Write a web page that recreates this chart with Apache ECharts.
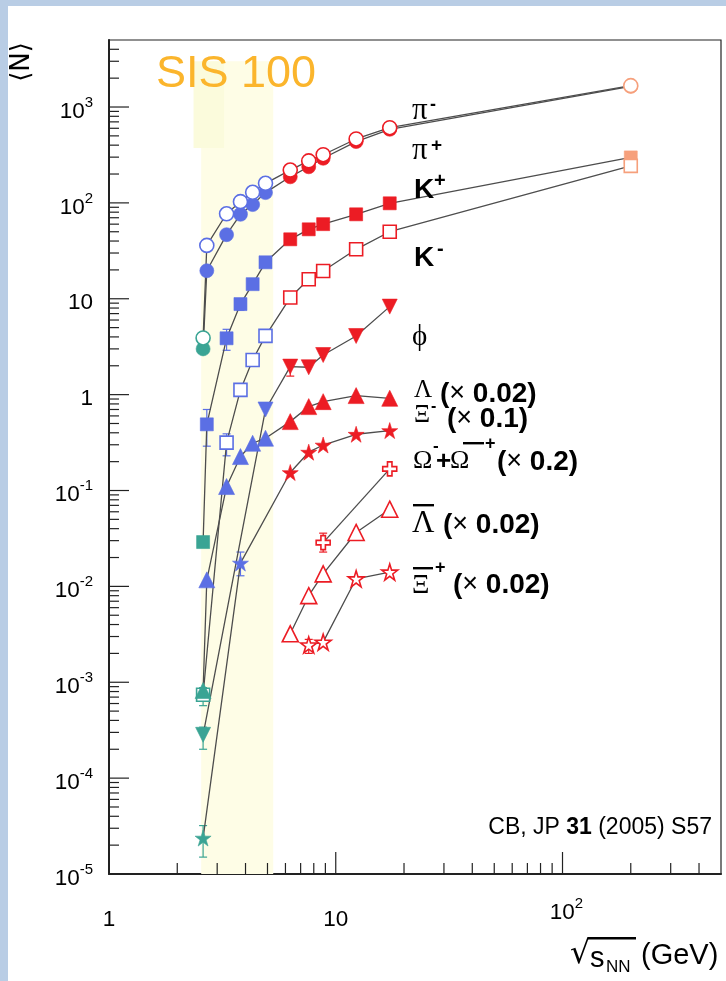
<!DOCTYPE html>
<html>
<head>
<meta charset="utf-8">
<script src="https://cdn.jsdelivr.net/npm/echarts@6/dist/echarts.min.js"></script>
<style>
html, body { margin: 0; padding: 0; background: #ffffff; }
#chart { width: 726px; height: 981px; }
</style>
</head>
<body>
<div id="chart"></div>
<script>
// Mean hadron multiplicities <N> versus collision energy sqrt(s_NN) in GeV.
// Energies: SIS (2.6), AGS (2.7-4.9), SPS (6.3-17.3), RHIC (200).

const piMinusE = [2.6, 2.7, 3.3, 3.8, 4.3, 4.9, 6.3, 7.6, 8.8, 12.3, 17.3, 200];
const piMinusN = [3.9, 36, 77, 103, 129, 160, 220, 274, 318, 464, 608, 1670];

const piPlusE = [2.6, 2.7, 3.3, 3.8, 4.3, 4.9, 6.3, 7.6, 8.8, 12.3, 17.3, 200];
const piPlusN = [3.0, 19.6, 46.6, 76, 96, 128, 187, 238, 292, 436, 586, 1640];

const kPlusE = [2.6, 2.7, 3.3, 3.8, 4.3, 4.9, 6.3, 7.6, 8.8, 12.3, 17.3, 200];
const kPlusN = [0.029, 0.49, 3.87, 8.8, 14.2, 24, 41.7, 53, 60, 76, 99, 298];

const kMinusE = [2.6, 3.3, 3.8, 4.3, 4.9, 6.3, 7.6, 8.8, 12.3, 17.3, 200];
const kMinusN = [7.4e-4, 0.316, 1.12, 2.3, 4.1, 10.3, 16.0, 19.5, 32.8, 50, 243];

const phiE = [2.6, 4.9, 6.3, 7.6, 8.8, 12.3, 17.3];
const phiN = [2.83e-4, 0.70, 1.96, 1.93, 2.59, 4.09, 8.28];

// Lambda scaled by 0.02
const lambdaE = [2.6, 2.7, 3.3, 3.8, 4.3, 4.9, 6.3, 7.6, 8.8, 12.3, 17.3];
const lambdaN = [8.2e-4, 0.0117, 0.110, 0.226, 0.311, 0.351, 0.523, 0.75, 0.845, 0.977, 0.916];

// Xi- scaled by 0.1
const xiMinusE = [2.6, 3.8, 6.3, 7.6, 8.8, 12.3, 17.3];
const xiMinusN = [2.37e-5, 0.0175, 0.154, 0.251, 0.298, 0.386, 0.422];

// Omega- + anti-Omega+ scaled by 0.2
const omegaE = [8.8, 17.3];
const omegaN = [0.0286, 0.168];

// anti-Lambda scaled by 0.02
const antiLambdaE = [6.3, 7.6, 8.8, 12.3, 17.3];
const antiLambdaN = [0.0032, 0.0080, 0.0135, 0.0365, 0.0638];

// anti-Xi+ scaled by 0.02
const antiXiE = [7.6, 8.8, 12.3, 17.3];
const antiXiN = [0.00245, 0.00262, 0.0120, 0.0141];

// Error bars: [energy, low, high]
const errKPlus = [[2.7, 0.29, 0.70], [3.3, 2.9, 4.8], [3.8, 7.6, 10.0]];
const errKMinus = [[2.6, 5.7e-4, 8.8e-4], [3.3, 0.23, 0.39], [3.8, 0.96, 1.27]];
const errPhi = [[2.6, 2.0e-4, 3.4e-4], [6.3, 1.56, 2.12]];
const errXiMinus = [[2.6, 1.5e-5, 3.2e-5], [3.8, 0.0129, 0.0228]];
const errOmega = [[8.8, 0.0228, 0.0359]];
const errAntiXi = [[7.6, 0.0020, 0.0028]];

// SIS 100 energy window
const sisBand = [2.55, 5.3, 1e-5, 3000];
const sisPatch = [2.36, 3.22, 373, 3000];

// Axis ranges and labelled decades
const xRange = [1, 500];
const yRange = [1e-5, 5000];
const xMajorTicks = [1, 10, 100];
const xMajorLabels = [['1', ''], ['10', ''], ['10', '2']];
const yMajorTicks = [1e-5, 1e-4, 1e-3, 1e-2, 1e-1, 1, 10, 100, 1000];
const yMajorLabels = [['10', '-5'], ['10', '-4'], ['10', '-3'], ['10', '-2'], ['10', '-1'], ['1', ''], ['10', ''], ['10', '2'], ['10', '3']];

const TEAL = '#3aa494';
const BLUE = '#5b6fe4';
const RED = '#ec1c24';
const ORANGE = '#f6a07c';
const LINE = '#4d4d4d';
const SANS = '"Liberation Sans", Arial, sans-serif';
const SERIF = '"Liberation Serif", "Times New Roman", serif';

function colorFor(e) {
  if (e < 2.65) return TEAL;
  if (e < 6) return BLUE;
  if (e < 100) return RED;
  return ORANGE;
}

const STAR = 'path://M50,0 L61.2,34.5 L97.6,34.5 L68.2,55.9 L79.4,90.5 L50,69.1 L20.6,90.5 L31.8,55.9 L2.4,34.5 L38.8,34.5 Z';
const CROSS = 'path://M34,0 H66 V34 H100 V66 H66 V100 H34 V66 H0 V34 H34 Z';

function speciesSeries(name, es, ns, symbol, size, open, extra) {
  const data = es.map((e, i) => {
    const c = colorFor(e);
    return {
      value: [e, ns[i]],
      itemStyle: open
        ? { color: '#ffffff', borderColor: c, borderWidth: 1.6 }
        : { color: c, borderColor: c, borderWidth: 0.6 }
    };
  });
  return Object.assign({
    name: name,
    type: 'line',
    data: data,
    symbol: symbol,
    symbolSize: size,
    showAllSymbol: true,
    lineStyle: { color: LINE, width: 1.3 },
    emphasis: { disabled: true },
    z: 5
  }, extra || {});
}

function errorSeries(rows) {
  return {
    type: 'custom',
    data: rows,
    encode: { x: 0, y: [1, 2] },
    z: 4,
    clip: false,
    renderItem: function (params, api) {
      const e = api.value(0);
      const p1 = api.coord([e, api.value(1)]);
      const p2 = api.coord([e, api.value(2)]);
      const c = colorFor(e);
      const w = 4;
      const st = { stroke: c, lineWidth: 1.2 };
      return {
        type: 'group',
        children: [
          { type: 'line', shape: { x1: p1[0], y1: p1[1], x2: p2[0], y2: p2[1] }, style: st },
          { type: 'line', shape: { x1: p1[0] - w, y1: p1[1], x2: p1[0] + w, y2: p1[1] }, style: st },
          { type: 'line', shape: { x1: p2[0] - w, y1: p2[1], x2: p2[0] + w, y2: p2[1] }, style: st }
        ]
      };
    }
  };
}

function bandSeries(rect, fill) {
  return {
    type: 'custom',
    data: [rect],
    encode: { x: [0, 1], y: [2, 3] },
    z: 1,
    silent: true,
    renderItem: function (params, api) {
      const a = api.coord([api.value(0), api.value(3)]);
      const b = api.coord([api.value(1), api.value(2)]);
      return {
        type: 'rect',
        shape: { x: a[0], y: a[1], width: b[0] - a[0], height: b[1] - a[1] },
        style: { fill: fill }
      };
    }
  };
}

// Tick marks on the log axes (majors at decades, minors at 2..9)
const tickData = [];
const tickMeta = [];
xMajorTicks.forEach((v, i) => {
  tickData.push([v, yRange[0]]);
  tickMeta.push({ axis: 'x', major: true, label: xMajorLabels[i] });
});
for (let d = 1; d <= 100; d *= 10) {
  for (let m = 2; m <= 9; m++) {
    const v = m * d;
    if (v < xRange[1]) {
      tickData.push([v, yRange[0]]);
      tickMeta.push({ axis: 'x', major: false });
    }
  }
}
yMajorTicks.forEach((v, i) => {
  tickData.push([xRange[0], v]);
  tickMeta.push({ axis: 'y', major: true, label: yMajorLabels[i] });
});
for (let d = 1e-5; d <= 1000; d *= 10) {
  for (let m = 2; m <= 9; m++) {
    const v = m * d;
    if (v < yRange[1]) {
      tickData.push([xRange[0], v]);
      tickMeta.push({ axis: 'y', major: false });
    }
  }
}

const labelRich = {
  b: { font: '22.5px ' + SANS, fill: '#000', lineHeight: 28, verticalAlign: 'bottom' },
  s: { font: '15px ' + SANS, fill: '#000', lineHeight: 15, verticalAlign: 'top' }
};

function labelText(lab) {
  return lab[1] ? '{b|' + lab[0] + '}{s|' + lab[1] + '}' : '{b|' + lab[0] + '}';
}

const tickSeries = {
  type: 'custom',
  data: tickData,
  encode: { x: 0, y: 1 },
  z: 10,
  clip: false,
  silent: true,
  renderItem: function (params, api) {
    const t = tickMeta[params.dataIndex];
    const p = api.coord([api.value(0), api.value(1)]);
    const children = [];
    const st = { stroke: '#222', lineWidth: 1.2 };
    if (t.axis === 'x') {
      const len = t.major ? 22 : 11;
      children.push({ type: 'line', shape: { x1: p[0], y1: p[1], x2: p[0], y2: p[1] - len }, style: st });
      if (t.label) {
        children.push({
          type: 'text',
          style: {
            text: labelText(t.label), rich: labelRich,
            x: p[0] + (t.label[1] ? 4 : 0), y: p[1] + (t.label[1] ? 36 : 43),
            align: 'center', verticalAlign: 'middle'
          }
        });
      }
    } else {
      const len = t.major ? 20 : 10;
      children.push({ type: 'line', shape: { x1: p[0], y1: p[1], x2: p[0] + len, y2: p[1] }, style: st });
      if (t.label) {
        children.push({
          type: 'text',
          style: {
            text: labelText(t.label), rich: labelRich,
            x: p[0] - 16, y: p[1] + 2,
            align: 'right', verticalAlign: 'middle'
          }
        });
      }
    }
    return { type: 'group', children: children };
  }
};

function txt(text, x, y, font, extra) {
  return Object.assign({
    type: 'text', x: x, y: y, z: 20,
    style: Object.assign({ text: text, font: font, fill: '#000', align: 'left', verticalAlign: 'middle' }, (extra && extra.style) || {})
  }, extra && extra.rotation !== undefined ? { rotation: extra.rotation } : {});
}
function bar(x, y, w) {
  return { type: 'rect', z: 20, shape: { x: x, y: y, width: w, height: 2.4 }, style: { fill: '#000' } };
}
const factorRich = {
  p: { font: 'bold 28px ' + SANS, fill: '#000' },
  m: { font: '27px ' + SANS, fill: '#000' }
};
function factor(val, x, y) {
  return {
    type: 'text', x: x, y: y, z: 20,
    style: { text: '{p|(}{m|×}{p| ' + val + ')}', rich: factorRich, align: 'left', verticalAlign: 'middle' }
  };
}

const graphics = [
  { type: 'rect', z: -10, shape: { x: 0, y: 0, width: 8, height: 981 }, style: { fill: '#b9cde5' } },
  { type: 'rect', z: -10, shape: { x: 0, y: 0, width: 726, height: 6 }, style: { fill: '#b9cde5' } },

  txt('SIS 100', 156, 75, '45px ' + SANS, { style: { fill: '#fbb52c' } }),

  // y-axis title
  txt('⟨N⟩', 22, 62, '26px "DejaVu Sans"', { rotation: Math.PI / 2, style: { align: 'center' } }),

  // x-axis title
  txt('√', 570, 955, '32px "DejaVu Sans"'),
  bar(588, 937, 48),
  txt('s', 590, 959, '29px ' + SANS),
  txt('NN', 606, 967, '17px ' + SANS),
  txt('(GeV)', 641, 956, '29px ' + SANS),

  // species labels
  txt('π', 412, 111, '31px ' + SERIF),
  txt('-', 430, 105, 'bold 18px ' + SANS),
  txt('π', 412, 151, '31px ' + SERIF),
  txt('+', 431, 146, 'bold 19px ' + SANS),
  txt('K', 414, 190, 'bold 28px ' + SANS),
  txt('+', 434, 181, 'bold 20px ' + SANS),
  txt('K', 414, 258, 'bold 28px ' + SANS),
  txt('-', 437, 249, 'bold 20px ' + SANS),
  txt('ϕ', 412, 337, '29px ' + SERIF),

  txt('Λ', 414, 390, '25px ' + SERIF),
  factor('0.02', 440, 394),
  txt('Ξ', 414, 415, '25px ' + SERIF),
  txt('-', 431, 407, 'bold 16px ' + SANS),
  factor('0.1', 447, 419),

  txt('Ω', 413, 461, '26px ' + SERIF),
  txt('-', 433, 446, 'bold 17px ' + SANS),
  txt('+', 436, 462, 'bold 26px ' + SANS),
  txt('Ω', 450, 461, '26px ' + SERIF),
  bar(463, 442, 21),
  txt('+', 485, 444, 'bold 18px ' + SANS),
  factor('0.2', 497, 462),

  bar(413, 504, 21),
  txt('Λ', 412, 524, '31px ' + SERIF),
  factor('0.02', 443, 525),

  bar(413, 567, 20),
  txt('Ξ', 412, 586, '27px ' + SERIF),
  txt('+', 435, 568, 'bold 18px ' + SANS),
  factor('0.02', 453, 585),

  {
    type: 'text', x: 712, y: 828, z: 20,
    style: {
      text: '{r|CB, JP }{b|31}{r| (2005) S57}',
      rich: { r: { font: '23px ' + SANS, fill: '#000' }, b: { font: 'bold 23px ' + SANS, fill: '#000' } },
      align: 'right', verticalAlign: 'middle'
    }
  }
];

const option = {
  animation: false,
  backgroundColor: '#ffffff',
  grid: { left: 109, top: 40, width: 612, height: 834, show: true, borderColor: '#222', borderWidth: 1.2, backgroundColor: 'transparent' },
  xAxis: {
    type: 'log', logBase: 10, min: xRange[0], max: xRange[1],
    axisLine: { show: true, onZero: false, lineStyle: { color: '#222', width: 2 } },
    axisTick: { show: false }, axisLabel: { show: false }, splitLine: { show: false }
  },
  yAxis: {
    type: 'log', logBase: 10, min: yRange[0], max: yRange[1],
    axisLine: { show: true, onZero: false, lineStyle: { color: '#222', width: 2 } },
    axisTick: { show: false }, axisLabel: { show: false }, splitLine: { show: false }
  },
  graphic: graphics,
  series: [
    bandSeries(sisBand, '#fefde6'),
    bandSeries(sisPatch, '#fbfbdc'),
    errorSeries(errKPlus),
    errorSeries(errKMinus),
    errorSeries(errPhi),
    errorSeries(errXiMinus),
    errorSeries(errOmega),
    errorSeries(errAntiXi),
    speciesSeries('pi+', piPlusE, piPlusN, 'circle', 14, false),
    speciesSeries('pi-', piMinusE, piMinusN, 'circle', 14, true),
    speciesSeries('K+', kPlusE, kPlusN, 'rect', 13, false),
    speciesSeries('phi', phiE, phiN, 'triangle', 15, false, { symbolRotate: 180 }),
    speciesSeries('Xi-', xiMinusE, xiMinusN, STAR, 16, false),
    speciesSeries('K-', kMinusE, kMinusN, 'rect', 13, true),
    speciesSeries('Lambda', lambdaE, lambdaN, 'triangle', 16, false),
    speciesSeries('Omega', omegaE, omegaN, CROSS, 14, true),
    speciesSeries('anti-Lambda', antiLambdaE, antiLambdaN, 'triangle', 16, true),
    speciesSeries('anti-Xi+', antiXiE, antiXiN, STAR, 16, true),
    tickSeries
  ]
};

const chart = echarts.init(document.getElementById('chart'), null, { renderer: 'canvas' });
chart.setOption(option);
</script>
</body>
</html>
